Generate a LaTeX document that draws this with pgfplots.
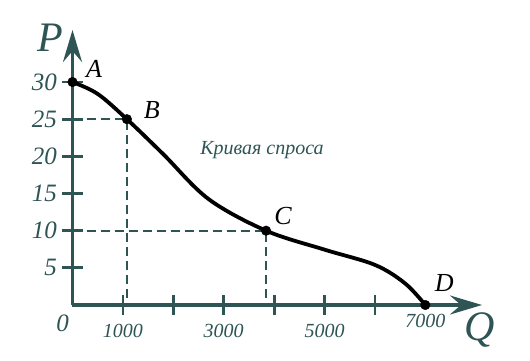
\documentclass[border=0pt]{standalone}
\usepackage{fontspec}
\setmainfont{Liberation Serif}
\usepackage{pgfplots}
\pgfplotsset{compat=1.18}
\usetikzlibrary{arrows.meta,calc}
\definecolor{teal1}{HTML}{2E5454}
\begin{document}
\begin{tikzpicture}
\begin{axis}[
  scale only axis, width=409.5pt, height=275pt,
  xmin=0, xmax=8125, ymin=0, ymax=37,
  axis lines*=left,
  axis line style={teal1, line width=3.4pt},
  x axis line style={-{Stealth[length=32pt,width=19pt,inset=11pt]}},
  y axis line style={-{Stealth[length=32pt,width=19pt,inset=11pt]}},
  tick align=center, major tick length=20pt,
  tick style={teal1, line width=2.8pt},
  xtick={1000,2000,3000,4000,5000,6000},
  xticklabels={1000,,3000,,5000,},
  extra x ticks={7000}, extra x tick labels={7000},
  extra x tick style={major tick length=0pt},
  ytick={5,10,15,20,25,30},
  yticklabels={5,10,15,20,25,30},
  xticklabel style={font=\itshape\fontsize{20}{20}\selectfont, text=teal1, yshift=-6pt},
  yticklabel style={font=\itshape\fontsize{25}{25}\selectfont, text=teal1, xshift=-2pt},
  clip=false,
]
\addplot[teal1, line width=2.3pt, dash pattern=on 9pt off 5pt] coordinates {(0,25)(1080,25)(1080,0)};
\addplot[teal1, line width=2.3pt, dash pattern=on 9pt off 5pt] coordinates {(0,10)(3840,10)(3840,0)};
\addplot[black, line width=3.8pt, smooth, tension=0.55] coordinates {
(0,30)(500,28.4)(1080,25)(1800,20.3)(2700,14.25)(3840,10)(5000,7.45)(6000,5.4)(6600,2.9)(7000,0)};
\addplot[only marks, mark=*, mark size=4.8pt, black] coordinates {(0,30)(1080,25)(3840,10)(7000,0)};
\coordinate (O) at (axis cs:0,0);
\node[font=\itshape\fontsize{26}{26}\selectfont] at ($(axis cs:0,30)+(21.5pt,13pt)$) {A};
\node[font=\itshape\fontsize{26}{26}\selectfont] at ($(axis cs:1080,25)+(25pt,9pt)$) {B};
\node[font=\itshape\fontsize{26}{26}\selectfont] at ($(axis cs:3840,10)+(17pt,15pt)$) {C};
\node[font=\itshape\fontsize{26}{26}\selectfont] at ($(axis cs:7000,0)+(19pt,22pt)$) {D};
\node[font=\itshape\fontsize{20}{20}\selectfont, text=teal1] at (axis cs:3760,20.8) {Кривая спроса};
\node[font=\itshape\fontsize{25}{25}\selectfont, text=teal1] at ($(O)+(-10pt,-18pt)$) {0};
\node[font=\itshape\fontsize{42}{42}\selectfont, text=teal1] at ($(O)+(-22.5pt,267pt)$) {P};
\node[font=\itshape\fontsize{42}{42}\selectfont, text=teal1] at ($(O)+(407.5pt,-25pt)$) {Q};
\end{axis}
\pgfresetboundingbox
\path[use as bounding box] ($(O)+(-72.5pt,-55pt)$) rectangle ($(O)+(457.5pt,305pt)$);
\end{tikzpicture}
\end{document}
